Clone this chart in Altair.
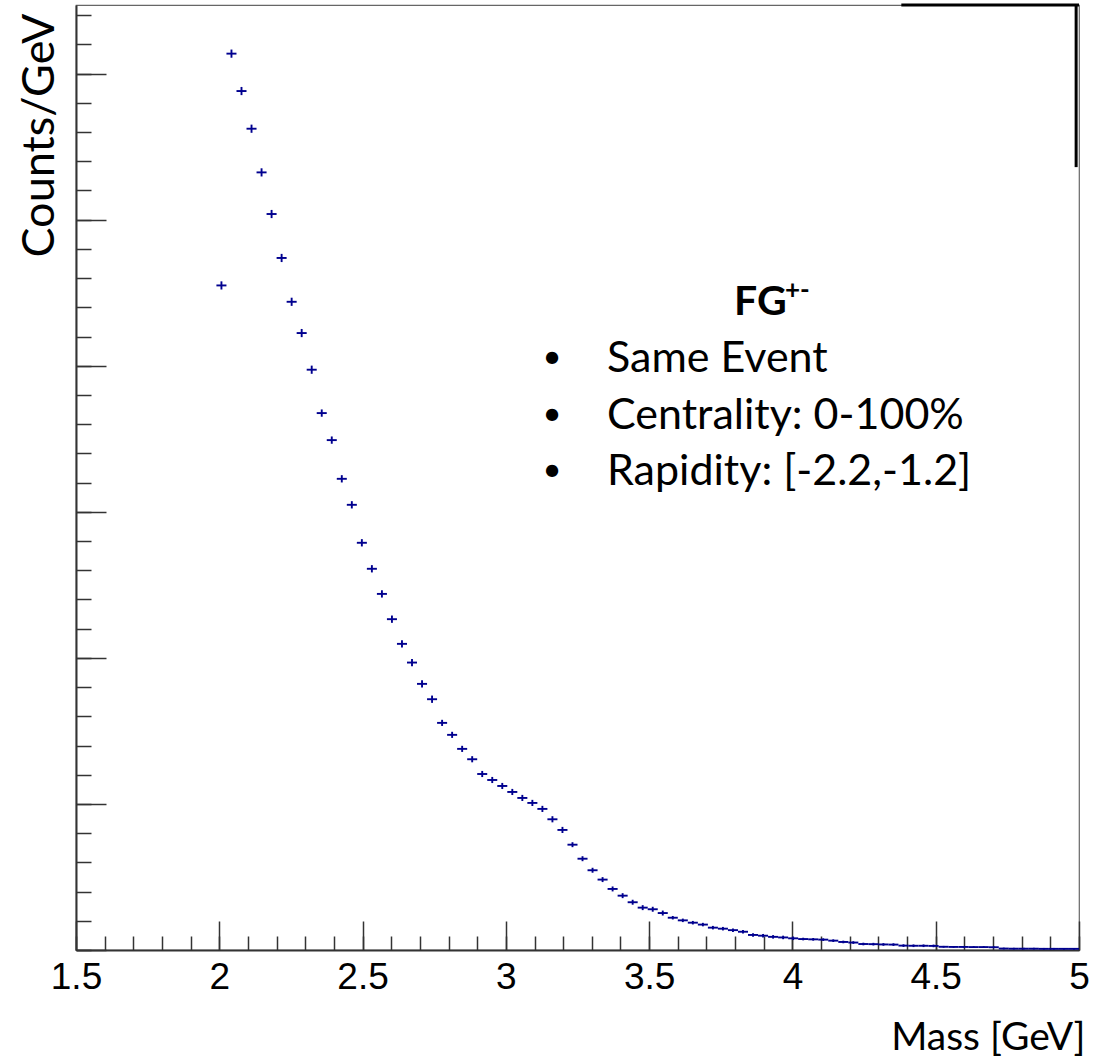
import altair as alt
import pandas as pd

# ---------------- data ----------------
bin_width = 0.035
first_low_edge = 1.99
counts = [
    4.550, 6.137, 5.881, 5.623, 5.324, 5.039, 4.738, 4.438, 4.224, 3.973,
    3.676, 3.491, 3.226, 3.048, 2.788, 2.610, 2.438, 2.265, 2.096, 1.968,
    1.822, 1.717, 1.555, 1.473, 1.377, 1.306, 1.205, 1.164, 1.123, 1.082,
    1.041, 1.007, 0.966, 0.895, 0.822, 0.721, 0.625, 0.546, 0.482, 0.418,
    0.372, 0.327, 0.290, 0.279, 0.253, 0.221, 0.203, 0.187, 0.174, 0.153,
    0.146, 0.136, 0.125, 0.103, 0.098, 0.090, 0.086, 0.080, 0.075, 0.073,
    0.071, 0.064, 0.055, 0.051, 0.041, 0.040, 0.038, 0.037, 0.030, 0.029,
    0.029, 0.028, 0.022, 0.021, 0.021, 0.020, 0.020, 0.019, 0.010, 0.009,
    0.009, 0.009, 0.008, 0.008, 0.008, 0.008,
]
errors = (
    [0.028] * 10 + [0.025] * 12 + [0.021] * 13 + [0.017] * 10
    + [0.012] * 13 + [0.009] * 14 + [0.006] * 14
)

x_major = [1.5, 2.0, 2.5, 3.0, 3.5, 4.0, 4.5, 5.0]
x_minor = [round(1.5 + 0.1 * i, 2) for i in range(36)]
y_major = [0, 1, 2, 3, 4, 5, 6]
y_minor = [round(0.2 * i, 2) for i in range(33)]
x_domain = [1.5, 5.0]
y_domain = [0, 6.47]

legend_title = "FG"
legend_sup = "+-"
legend_lines = ["Same Event", "Centrality: 0-100%", "Rapidity: [-2.2,-1.2]"]

# decorative black frame pieces at the top-right corner (data units)
frame_top = {"x": [4.38], "x2": [5.0], "y": [6.47]}
frame_right = {"x": [4.99], "y": [6.47], "y2": [5.36]}

# ---------------- table ----------------
lo = [round(first_low_edge + bin_width * i, 4) for i in range(len(counts))]
df = pd.DataFrame({
    "lo": lo,
    "hi": [v + bin_width for v in lo],
    "mid": [v + bin_width / 2 for v in lo],
    "val": counts,
    "ylo": [c - e for c, e in zip(counts, errors)],
    "yhi": [c + e for c, e in zip(counts, errors)],
})

BLUE = "#00008f"
AXC = "#333333"
xs = alt.Scale(domain=x_domain, nice=False, zero=False)
ys = alt.Scale(domain=y_domain, nice=False, zero=False)

# main layer: horizontal bin bars + labels/titles/axis lines
hbars = alt.Chart(df).mark_rule(color=BLUE, strokeWidth=1.9).encode(
    x=alt.X("lo:Q", scale=xs, axis=alt.Axis(
        orient="bottom",
        values=x_major, format="~g", ticks=False, tickSize=0, grid=False,
        domain=True, domainColor=AXC, domainWidth=2,
        labelFont="Liberation Sans", labelFontSize=37, labelColor="black",
        labelPadding=9, labelBaseline="top", labelFlush=False,
        labelOverlap=False,
        title="Mass [GeV]", titleFont="Lato", titleFontSize=39,
        titleFontWeight="normal", titleColor="black", titleAlign="right",
        titleBaseline="alphabetic", titleX=1009, titleY=99, titleAnchor="end")),
    x2="hi:Q",
    y=alt.Y("val:Q", scale=ys, axis=alt.Axis(
        orient="left",
        values=y_major, labels=False, ticks=False, tickSize=0, grid=False,
        domain=True, domainColor=AXC, domainWidth=2,
        title="Counts/GeV", titleFont="Lato", titleFontSize=45,
        titleFontWeight="normal", titleColor="black", titleAngle=270,
        titleAlign="center", titleBaseline="alphabetic",
        titleX=-23, titleY=130)),
)

# vertical error bars + major inward ticks
vbars = alt.Chart(df).mark_rule(color=BLUE, strokeWidth=1.9).encode(
    x=alt.X("mid:Q", scale=xs, axis=alt.Axis(
        orient="bottom",
        values=x_major, labels=False, domain=False, grid=False, title="",
        tickSize=29, offset=-29, tickColor=AXC, tickWidth=1.5)),
    y=alt.Y("ylo:Q", scale=ys, axis=alt.Axis(
        orient="left",
        values=y_major, labels=False, domain=False, grid=False, title="",
        tickSize=30, offset=-30, tickColor=AXC, tickWidth=1.5)),
    y2="yhi:Q",
)

# invisible layer carrying minor inward ticks
minor = alt.Chart(df).mark_point(opacity=0).encode(
    x=alt.X("mid:Q", scale=xs, axis=alt.Axis(
        orient="bottom",
        values=x_minor, labels=False, domain=False, grid=False, title="",
        tickSize=14, offset=-14, tickColor=AXC, tickWidth=1.5)),
    y=alt.Y("val:Q", scale=ys, axis=alt.Axis(
        orient="left",
        values=y_minor, labels=False, domain=False, grid=False, title="",
        tickSize=15, offset=-15, tickColor=AXC, tickWidth=1.5)),
)

top_line = alt.Chart(pd.DataFrame(frame_top)).mark_rule(
    color="black", strokeWidth=3).encode(
    x=alt.X("x:Q", scale=xs, axis=None), x2="x2:Q",
    y=alt.Y("y:Q", scale=ys, axis=None))
right_line = alt.Chart(pd.DataFrame(frame_right)).mark_rule(
    color="black", strokeWidth=3).encode(
    x=alt.X("x:Q", scale=xs, axis=None),
    y=alt.Y("y:Q", scale=ys, axis=None), y2="y2:Q")

one = pd.DataFrame({"a": [0]})
FONT = "Lato"
FS = 43
texts = [
    alt.Chart(one).mark_text(text=legend_title, font=FONT, fontSize=41,
                             fontWeight="bold", align="left",
                             baseline="alphabetic", color="black")
    .encode(x=alt.value(658), y=alt.value(310)),
    alt.Chart(one).mark_text(text=legend_sup, font=FONT, fontSize=26,
                             fontWeight="bold", align="left",
                             baseline="alphabetic", color="black")
    .encode(x=alt.value(709), y=alt.value(294)),
]
for i, line in enumerate(legend_lines):
    yb = 367 + 56.5 * i
    texts.append(alt.Chart(one).mark_text(
        text="•", font=FONT, fontSize=33, align="center",
        baseline="alphabetic", color="black")
        .encode(x=alt.value(476), y=alt.value(yb - 4)))
    texts.append(alt.Chart(one).mark_text(
        text=line, font=FONT, fontSize=FS, align="left",
        baseline="alphabetic", color="black")
        .encode(x=alt.value(531), y=alt.value(yb)))

chart = alt.layer(hbars, vbars, minor, top_line, right_line, *texts).resolve_axis(
    x="independent", y="independent"
).properties(
    width=1003, height=945,
    autosize=alt.AutoSizeParams(type="none"),
    padding={"left": 76, "top": 5, "right": 15, "bottom": 113},
    background="white",
).configure_view(stroke="#666666", strokeWidth=1.2)

chart.save("out.html", embed_options={"renderer": "svg", "actions": False})
